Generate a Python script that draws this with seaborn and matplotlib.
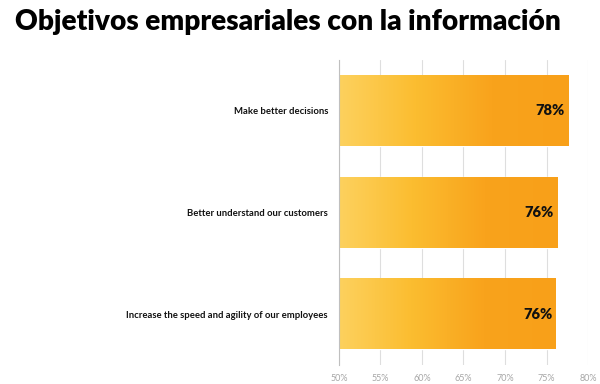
import numpy as np
import pandas as pd
import matplotlib
matplotlib.use("Agg")
import matplotlib.pyplot as plt
from matplotlib.colors import LinearSegmentedColormap
import seaborn as sns

categories = ["Make better decisions", "Better understand our customers",
              "Increase the speed and agility of our employees"]
values = [77.6, 76.3, 76.1]
value_labels = ["78%", "76%", "76%"]
xticks = [50, 55, 60, 65, 70, 75, 80]
xtick_labels = ["50%", "55%", "60%", "65%", "70%", "75%", "80%"]
title = "Objetivos empresariales con la información"

sns.set_theme(style="white")
plt.rcParams['font.family'] = ['Lato', 'DejaVu Sans']

df = pd.DataFrame({"cat": categories, "val": values})

fig = plt.figure(figsize=(6, 3.84), dpi=100)
ax = fig.add_axes([0.565, 0.049, 0.415, 0.795])

sns.barplot(data=df, x="val", y="cat", ax=ax, color="#F9A11B", width=0.69,
            orient="h", saturation=1)

XMIN, XMAX = 50, 80
ax.set_xlim(XMIN, XMAX)
ax.set_ylim(2.5, -0.5)
ax.set_xticks(xticks)
ax.set_xticklabels(xtick_labels, color="#a6a6a6", fontsize=6.5)
ax.set_xlabel("")
ax.set_ylabel("")
ax.tick_params(axis="x", length=0, pad=6)
ax.tick_params(axis="y", length=0, pad=8, labelsize=6.8)
for lbl in ax.get_yticklabels():
    lbl.set_fontweight("bold")
    lbl.set_color("#111111")

ax.xaxis.grid(True, color="#dedede", linewidth=0.8)
ax.set_axisbelow(True)
for s in ["top", "right", "bottom"]:
    ax.spines[s].set_visible(False)
ax.spines["left"].set_color("#bfbfbf")
ax.spines["left"].set_linewidth(0.8)
ax.set_yticks([-0.5, 0.5, 1.5, 2.5], minor=True)
ax.tick_params(axis="y", which="minor", length=3, color="#bfbfbf", width=0.8)

cmap = LinearSegmentedColormap.from_list("g", ["#FDD15E", "#FBBD30", "#F9A31C", "#F8A019"])
grad = np.linspace(0, 1, 256).reshape(1, -1)
for p, lab in zip(ax.patches, value_labels):
    x0, y0 = p.get_x(), p.get_y()
    w, h = p.get_width(), p.get_height()
    left = max(x0, XMIN)
    right = x0 + w
    ax.imshow(grad, cmap=cmap, aspect="auto",
              extent=[left, right, y0 + h, y0], zorder=p.get_zorder() + 0.1)
    ax.text(right - 0.4, y0 + h / 2, lab, ha="right", va="center",
            fontsize=10.5, fontweight="heavy", color="#111111", zorder=5)

ax.set_xlim(XMIN, XMAX)
ax.set_ylim(2.5, -0.5)

fig.text(0.025, 0.942, title, fontsize=20.2, fontweight="heavy", color="black",
         ha="left", va="center")

fig.savefig("out.png", dpi=100)
